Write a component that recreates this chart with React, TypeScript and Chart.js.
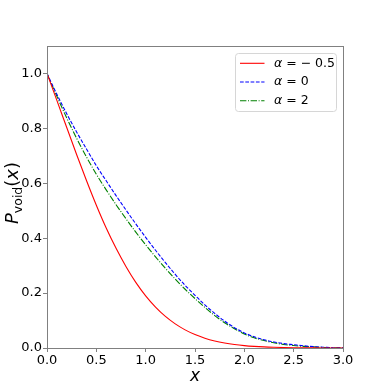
import React, { useEffect, useRef } from "react";
import { Chart, registerables } from "chart.js";

Chart.register(...registerables);

const xValues = [0.0, 0.1, 0.2, 0.3, 0.4, 0.5, 0.6, 0.7, 0.8, 0.9, 1.0, 1.1, 1.2, 1.3, 1.4, 1.5, 1.6, 1.7, 1.8, 1.9, 2.0, 2.1, 2.2, 2.3, 2.4, 2.5, 2.6, 2.7, 2.8, 2.9, 3.0];

const redValues = [1.0, 0.902, 0.803, 0.705, 0.61, 0.52, 0.437, 0.363, 0.297, 0.239, 0.19, 0.149, 0.115, 0.0878, 0.066, 0.0489, 0.0357, 0.0257, 0.0183, 0.0128, 0.0088, 0.006, 0.004, 0.0027, 0.0018, 0.0011, 0.0007, 0.0004, 0.0002, 0.0001, 0.0];

const blueValues = [1.0, 0.924, 0.853, 0.787, 0.725, 0.664, 0.609, 0.555, 0.503, 0.452, 0.403, 0.356, 0.311, 0.268, 0.228, 0.192, 0.157, 0.126, 0.098, 0.074, 0.055, 0.041, 0.03, 0.022, 0.016, 0.012, 0.008, 0.005, 0.003, 0.001, 0.0005];

const greenValues = [1.0, 0.917, 0.838, 0.764, 0.696, 0.633, 0.576, 0.522, 0.471, 0.422, 0.376, 0.332, 0.29, 0.251, 0.214, 0.18, 0.148, 0.118, 0.092, 0.07, 0.051, 0.037, 0.027, 0.019, 0.013, 0.009, 0.006, 0.004, 0.002, 0.001, 0.0004];

const seriesLabels = ["α = − 0.5", "α = 0", "α = 2"];
const xTickValues = [0, 0.5, 1.0, 1.5, 2.0, 2.5, 3.0];
const yTickValues = [0, 0.2, 0.4, 0.6, 0.8, 1.0];

const COLORS = ["#ff0000", "#0000ff", "#008000"];
const DASHES: number[][] = [[], [3.7, 1.6], [6.4, 1.6, 1, 1.6]];
const FONT = "'DejaVu Sans', sans-serif";
const FRAME = "#808080";

export default function App() {
  const ref = useRef<HTMLCanvasElement>(null);

  useEffect(() => {
    const canvas = ref.current;
    if (!canvas) return;

    const toPts = (ys: number[]) => xValues.map((x, i) => ({ x, y: ys[i] }));
    const all = [redValues, blueValues, greenValues];

    const extras = {
      id: "extras",
      afterDraw(chart: any) {
        const ctx = chart.ctx as CanvasRenderingContext2D;
        const a = chart.chartArea;
        ctx.save();
        // frame
        ctx.strokeStyle = FRAME;
        ctx.lineWidth = 1;
        ctx.setLineDash([]);
        ctx.strokeRect(Math.round(a.left) + 0.5, Math.round(a.top) + 0.5, Math.round(a.right - a.left), Math.round(a.bottom - a.top));

        // x title
        ctx.fillStyle = "#000";
        ctx.font = `italic 17px ${FONT}`;
        ctx.textAlign = "center";
        ctx.textBaseline = "alphabetic";
        ctx.fillText("x", (a.left + a.right) / 2, 381);

        // y title
        ctx.save();
        ctx.translate(18, (a.top + a.bottom) / 2 - 4);
        ctx.rotate(-Math.PI / 2);
        ctx.textAlign = "left";
        const big = 18;
        const small = 12.5;
        const parts = [
          { t: "P", f: `italic ${big}px ${FONT}`, dy: 0 },
          { t: "void", f: `${small}px ${FONT}`, dy: 4 },
          { t: "(", f: `${big}px ${FONT}`, dy: 0 },
          { t: "x", f: `italic ${big}px ${FONT}`, dy: 0 },
          { t: ")", f: `${big}px ${FONT}`, dy: 0 },
        ];
        let total = 0;
        for (const p of parts) { ctx.font = p.f; total += ctx.measureText(p.t).width; }
        let cx = -total / 2;
        for (const p of parts) {
          ctx.font = p.f;
          ctx.fillText(p.t, cx, p.dy);
          cx += ctx.measureText(p.t).width;
        }
        ctx.restore();

        // legend
        const bx = 235.5, by = 53.5, bw = 101, bh = 58, r = 3;
        ctx.beginPath();
        ctx.moveTo(bx + r, by);
        ctx.lineTo(bx + bw - r, by);
        ctx.arcTo(bx + bw, by, bx + bw, by + r, r);
        ctx.lineTo(bx + bw, by + bh - r);
        ctx.arcTo(bx + bw, by + bh, bx + bw - r, by + bh, r);
        ctx.lineTo(bx + r, by + bh);
        ctx.arcTo(bx, by + bh, bx, by + bh - r, r);
        ctx.lineTo(bx, by + r);
        ctx.arcTo(bx, by, bx + r, by, r);
        ctx.closePath();
        ctx.fillStyle = "rgba(255,255,255,0.8)";
        ctx.fill();
        ctx.strokeStyle = "#d6d6d6";
        ctx.lineWidth = 1;
        ctx.stroke();

        const rows = [63.3, 82, 100.8];
        rows.forEach((ry, i) => {
          ctx.beginPath();
          ctx.strokeStyle = COLORS[i];
          ctx.lineWidth = 1.1;
          ctx.setLineDash(DASHES[i]);
          ctx.moveTo(240, ry);
          ctx.lineTo(264.5, ry);
          ctx.stroke();
          ctx.setLineDash([]);
          ctx.fillStyle = "#000";
          ctx.textBaseline = "middle";
          ctx.textAlign = "left";
          ctx.font = `italic 12.5px ${FONT}`;
          ctx.fillText("α", 274, ry);
          const w = ctx.measureText("α").width;
          ctx.font = `12.5px ${FONT}`;
          ctx.fillText(seriesLabels[i].slice(1), 274 + w, ry);
        });
        ctx.restore();
      },
    };

    const chart = new Chart(canvas, {
      type: "line",
      data: {
        datasets: all.map((ys, i) => ({
          label: seriesLabels[i],
          data: toPts(ys),
          borderColor: COLORS[i],
          backgroundColor: COLORS[i],
          borderWidth: 1.1,
          borderDash: DASHES[i],
          pointRadius: 0,
          fill: false,
          cubicInterpolationMode: "monotone" as const,
        })),
      },
      options: {
        animation: false,
        responsive: false,
        devicePixelRatio: 1,
        layout: { padding: { top: 46, right: 38, left: 0, bottom: 0 } },
        plugins: { legend: { display: false }, tooltip: { enabled: false } },
        scales: {
          x: {
            type: "linear",
            min: 0,
            max: 3,
            afterFit: (s: any) => { s.height = 44; },
            afterBuildTicks: (s: any) => { s.ticks = xTickValues.map((v) => ({ value: v })); },
            ticks: {
              color: "#000",
              font: { family: FONT, size: 13 },
              padding: 1,
              maxRotation: 0,
              autoSkip: false,
              callback: (v: any) => Number(v).toFixed(1),
            },
            grid: { drawOnChartArea: false, drawTicks: true, tickLength: 4, color: FRAME },
            border: { color: FRAME },
          },
          y: {
            type: "linear",
            min: 0,
            max: 1.1,
            afterFit: (s: any) => { s.width = 47; },
            afterBuildTicks: (s: any) => { s.ticks = yTickValues.map((v) => ({ value: v })); },
            ticks: {
              color: "#000",
              font: { family: FONT, size: 13 },
              padding: 1,
              autoSkip: false,
              callback: (v: any) => Number(v).toFixed(1),
            },
            grid: { drawOnChartArea: false, drawTicks: true, tickLength: 4, color: FRAME },
            border: { color: FRAME },
          },
        },
      },
      plugins: [extras],
    });

    return () => chart.destroy();
  }, []);

  return (
    <div style={{ position: "absolute", left: 0, top: 0, width: 381, height: 392 }}>
      <canvas ref={ref} width={381} height={392} style={{ width: 381, height: 392 }} />
    </div>
  );
}
